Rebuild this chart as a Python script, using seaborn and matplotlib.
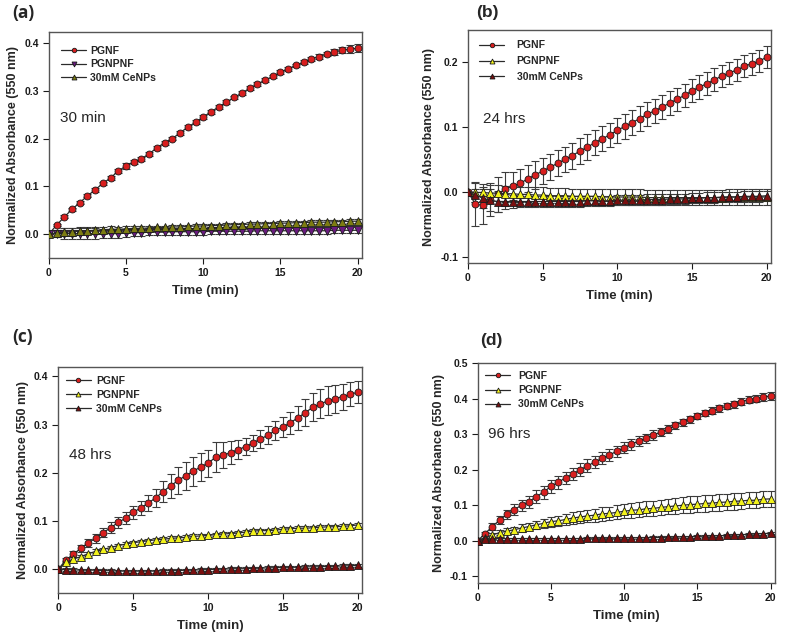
import numpy as np
import matplotlib
matplotlib.use("Agg")
import matplotlib.pyplot as plt
import seaborn as sns

# time grid (min)
t = np.arange(0, 20.5, 0.5)

# ---- (a) 30 min ----
a_pgnf = [0, 0.019, 0.036, 0.052, 0.066, 0.080, 0.093, 0.106, 0.118, 0.132,
          0.143, 0.151, 0.158, 0.168, 0.181, 0.191, 0.200, 0.212, 0.224, 0.234,
          0.245, 0.256, 0.266, 0.276, 0.286, 0.295, 0.305, 0.314, 0.322, 0.330,
          0.339, 0.346, 0.353, 0.360, 0.367, 0.371, 0.377, 0.381, 0.385, 0.387, 0.389]
a_pgnf_err = [0, 0.003, 0.003, 0.003, 0.003, 0.003, 0.004, 0.004, 0.004, 0.005,
              0.006, 0.005, 0.004, 0.004, 0.004, 0.004, 0.004, 0.004, 0.004, 0.004,
              0.004, 0.004, 0.004, 0.004, 0.004, 0.004, 0.004, 0.004, 0.004, 0.004,
              0.004, 0.004, 0.004, 0.004, 0.004, 0.005, 0.005, 0.006, 0.007, 0.008, 0.008]
a_pgnpnf = [0, 0.001, 0.001, 0.001, 0.001, 0.001, 0.001, 0.001, 0.001, 0.001,
            0.002, 0.003, 0.003, 0.004, 0.004, 0.004, 0.005, 0.005, 0.005, 0.005,
            0.005, 0.006, 0.006, 0.006, 0.006, 0.006, 0.006, 0.007, 0.007, 0.007,
            0.007, 0.007, 0.007, 0.007, 0.007, 0.007, 0.007, 0.008, 0.008, 0.008, 0.008]
a_pgnpnf_err = [0, 0.008, 0.012, 0.012, 0.012, 0.011, 0.011, 0.010, 0.010, 0.009,
                0.008, 0.007, 0.006, 0.006, 0.006, 0.006, 0.006, 0.006, 0.006, 0.006,
                0.006, 0.006, 0.006, 0.006, 0.006, 0.006, 0.006, 0.006, 0.006, 0.006,
                0.006, 0.006, 0.006, 0.006, 0.006, 0.006, 0.006, 0.006, 0.006, 0.006, 0.006]
a_cenps = [0, 0.003, 0.004, 0.005, 0.006, 0.007, 0.008, 0.009, 0.010, 0.010,
           0.011, 0.012, 0.012, 0.013, 0.014, 0.014, 0.015, 0.015, 0.016, 0.017,
           0.017, 0.018, 0.018, 0.019, 0.020, 0.020, 0.021, 0.021, 0.022, 0.022,
           0.023, 0.023, 0.024, 0.024, 0.025, 0.025, 0.025, 0.026, 0.026, 0.027, 0.027]
a_cenps_err = [0, 0.006, 0.008, 0.008, 0.008, 0.007, 0.007, 0.006, 0.006, 0.005,
               0.005, 0.004, 0.004, 0.004, 0.004, 0.004, 0.004, 0.004, 0.004, 0.004,
               0.004, 0.004, 0.004, 0.004, 0.004, 0.004, 0.004, 0.004, 0.004, 0.004,
               0.004, 0.004, 0.004, 0.004, 0.004, 0.004, 0.004, 0.004, 0.004, 0.004, 0.004]

# ---- (b) 24 hrs ----
b_pgnf = [0, -0.019, -0.021, -0.012, -0.004, 0.004, 0.009, 0.013, 0.020, 0.026,
          0.032, 0.038, 0.044, 0.050, 0.056, 0.063, 0.069, 0.076, 0.082, 0.088,
          0.095, 0.101, 0.107, 0.113, 0.120, 0.125, 0.131, 0.137, 0.143, 0.149,
          0.156, 0.162, 0.167, 0.173, 0.179, 0.184, 0.188, 0.194, 0.198, 0.202, 0.208]
b_pgnf_err = [0, 0.034, 0.028, 0.026, 0.027, 0.026, 0.022, 0.022, 0.021, 0.021,
              0.020, 0.020, 0.020, 0.020, 0.020, 0.020, 0.020, 0.019, 0.019, 0.019,
              0.019, 0.019, 0.019, 0.019, 0.019, 0.019, 0.018, 0.018, 0.018, 0.018,
              0.018, 0.018, 0.018, 0.018, 0.017, 0.017, 0.017, 0.017, 0.017, 0.017, 0.017]
b_pgnpnf = [0, -0.001, -0.001, -0.002, -0.002, -0.003, -0.003, -0.004, -0.004, -0.005,
            -0.005, -0.006, -0.006, -0.006, -0.007, -0.007, -0.007, -0.007, -0.008, -0.008,
            -0.008, -0.008, -0.008, -0.008, -0.009, -0.009, -0.009, -0.009, -0.009, -0.009,
            -0.009, -0.009, -0.009, -0.009, -0.009, -0.008, -0.008, -0.008, -0.008, -0.008, -0.008]
b_pgnpnf_err = [0, 0.015, 0.013, 0.012, 0.012, 0.012, 0.012, 0.012, 0.012, 0.012,
                0.012, 0.012, 0.012, 0.012, 0.012, 0.012, 0.012, 0.012, 0.012, 0.012,
                0.012, 0.012, 0.012, 0.012, 0.012, 0.012, 0.012, 0.012, 0.012, 0.012,
                0.012, 0.012, 0.012, 0.012, 0.012, 0.012, 0.012, 0.012, 0.012, 0.012, 0.012]
b_cenps = [0, -0.005, -0.010, -0.013, -0.015, -0.015, -0.015, -0.015, -0.015, -0.015,
           -0.015, -0.015, -0.015, -0.015, -0.015, -0.015, -0.014, -0.014, -0.014, -0.014,
           -0.013, -0.013, -0.013, -0.013, -0.012, -0.012, -0.012, -0.011, -0.011, -0.011,
           -0.010, -0.010, -0.009, -0.009, -0.008, -0.008, -0.008, -0.007, -0.007, -0.007, -0.006]
b_cenps_err = [0, 0.010, 0.015, 0.017, 0.016, 0.012, 0.010, 0.009, 0.008, 0.008,
               0.008, 0.008, 0.008, 0.008, 0.008, 0.008, 0.008, 0.008, 0.008, 0.008,
               0.008, 0.008, 0.008, 0.008, 0.008, 0.008, 0.008, 0.008, 0.008, 0.008,
               0.008, 0.008, 0.008, 0.008, 0.008, 0.008, 0.008, 0.008, 0.008, 0.008, 0.008]

# ---- (c) 48 hrs ----
c_pgnf = [0, 0.019, 0.031, 0.043, 0.055, 0.064, 0.076, 0.086, 0.097, 0.106,
          0.118, 0.127, 0.137, 0.148, 0.161, 0.173, 0.184, 0.194, 0.203, 0.212,
          0.220, 0.232, 0.236, 0.242, 0.248, 0.254, 0.262, 0.270, 0.278, 0.288,
          0.295, 0.304, 0.314, 0.325, 0.336, 0.343, 0.349, 0.354, 0.358, 0.363, 0.367]
c_pgnf_err = [0, 0.004, 0.006, 0.007, 0.008, 0.010, 0.010, 0.011, 0.012, 0.013,
              0.014, 0.015, 0.017, 0.019, 0.022, 0.025, 0.027, 0.029, 0.030, 0.029,
              0.028, 0.031, 0.027, 0.024, 0.020, 0.018, 0.017, 0.018, 0.019, 0.020,
              0.021, 0.023, 0.025, 0.027, 0.029, 0.030, 0.030, 0.029, 0.027, 0.025, 0.023]
c_pgnpnf = [0, 0.014, 0.021, 0.026, 0.032, 0.037, 0.041, 0.045, 0.049, 0.052,
            0.055, 0.057, 0.059, 0.061, 0.062, 0.064, 0.065, 0.066, 0.068, 0.069,
            0.070, 0.072, 0.073, 0.074, 0.075, 0.077, 0.079, 0.080, 0.080, 0.081,
            0.083, 0.084, 0.085, 0.085, 0.086, 0.087, 0.088, 0.088, 0.089, 0.090, 0.092]
c_pgnpnf_err = [0, 0.003, 0.004, 0.004, 0.004, 0.004, 0.004, 0.004, 0.004, 0.004,
                0.004, 0.004, 0.004, 0.004, 0.004, 0.004, 0.004, 0.004, 0.004, 0.004,
                0.004, 0.004, 0.004, 0.004, 0.004, 0.004, 0.004, 0.004, 0.004, 0.004,
                0.004, 0.004, 0.004, 0.004, 0.004, 0.004, 0.004, 0.004, 0.004, 0.004, 0.004]
c_cenps = [0, -0.001, -0.001, -0.002, -0.002, -0.002, -0.003, -0.003, -0.004, -0.004,
           -0.004, -0.004, -0.004, -0.004, -0.003, -0.003, -0.003, -0.002, -0.002, -0.001,
           -0.001, 0.000, 0.000, 0.001, 0.001, 0.001, 0.002, 0.002, 0.003, 0.003,
           0.004, 0.004, 0.004, 0.005, 0.005, 0.005, 0.006, 0.006, 0.007, 0.007, 0.008]
c_cenps_err = [0, 0.003, 0.003, 0.003, 0.003, 0.003, 0.003, 0.003, 0.003, 0.003,
               0.003, 0.003, 0.003, 0.003, 0.003, 0.003, 0.003, 0.003, 0.003, 0.003,
               0.003, 0.003, 0.003, 0.003, 0.003, 0.003, 0.003, 0.003, 0.003, 0.003,
               0.003, 0.003, 0.003, 0.003, 0.003, 0.003, 0.003, 0.003, 0.003, 0.003, 0.003]

# ---- (d) 96 hrs ----
d_pgnf = [0, 0.020, 0.040, 0.058, 0.074, 0.088, 0.100, 0.110, 0.124, 0.137,
          0.153, 0.165, 0.177, 0.188, 0.200, 0.211, 0.222, 0.232, 0.242, 0.252,
          0.262, 0.272, 0.281, 0.289, 0.298, 0.306, 0.315, 0.325, 0.334, 0.342,
          0.351, 0.360, 0.367, 0.373, 0.379, 0.384, 0.392, 0.397, 0.400, 0.405, 0.408]
d_pgnf_err = [0, 0.006, 0.010, 0.012, 0.014, 0.015, 0.016, 0.017, 0.018, 0.018,
              0.018, 0.018, 0.018, 0.018, 0.018, 0.018, 0.017, 0.017, 0.017, 0.016,
              0.016, 0.015, 0.014, 0.013, 0.013, 0.012, 0.012, 0.011, 0.010, 0.010,
              0.009, 0.009, 0.009, 0.009, 0.009, 0.009, 0.009, 0.010, 0.010, 0.010, 0.010]
d_pgnpnf = [0, 0.009, 0.016, 0.023, 0.027, 0.031, 0.036, 0.040, 0.045, 0.049,
            0.054, 0.056, 0.060, 0.064, 0.067, 0.070, 0.072, 0.076, 0.077, 0.080,
            0.083, 0.086, 0.087, 0.090, 0.091, 0.094, 0.096, 0.098, 0.100, 0.102,
            0.103, 0.105, 0.106, 0.108, 0.109, 0.111, 0.112, 0.114, 0.114, 0.117, 0.118]
d_pgnpnf_err = [0, 0.004, 0.006, 0.007, 0.008, 0.009, 0.010, 0.011, 0.012, 0.013,
                0.014, 0.015, 0.016, 0.017, 0.017, 0.018, 0.018, 0.019, 0.019, 0.020,
                0.020, 0.021, 0.021, 0.021, 0.022, 0.022, 0.022, 0.022, 0.023, 0.023,
                0.023, 0.023, 0.023, 0.023, 0.023, 0.023, 0.023, 0.023, 0.023, 0.023, 0.023]
d_cenps = [0, 0.005, 0.006, 0.006, 0.006, 0.006, 0.006, 0.006, 0.006, 0.006,
           0.006, 0.006, 0.006, 0.006, 0.006, 0.007, 0.007, 0.007, 0.007, 0.007,
           0.008, 0.008, 0.008, 0.008, 0.009, 0.009, 0.010, 0.010, 0.011, 0.011,
           0.012, 0.013, 0.013, 0.014, 0.015, 0.016, 0.017, 0.018, 0.019, 0.020, 0.021]
d_cenps_err = [0, 0.003, 0.003, 0.003, 0.003, 0.003, 0.003, 0.003, 0.003, 0.003,
               0.003, 0.003, 0.003, 0.003, 0.003, 0.003, 0.003, 0.003, 0.003, 0.003,
               0.003, 0.003, 0.003, 0.003, 0.003, 0.003, 0.003, 0.003, 0.003, 0.003,
               0.003, 0.003, 0.003, 0.003, 0.003, 0.003, 0.003, 0.003, 0.003, 0.003, 0.003]

labels = ["PGNF", "PGNPNF", "30mM CeNPs"]

sns.set_theme(style="ticks")
plt.rcParams["font.family"] = ["Liberation Sans", "DejaVu Sans"]

fig = plt.figure(figsize=(7.89, 6.41), dpi=100)

RED = "#d81e1e"
PURPLE = "#6a1a80"
OLIVE = "#7d7d12"
YELLOW = "#f2f21c"
DARKRED = "#7a0f0f"


def panel(rect, series, note, note_xy, ylim, yticks, tag, tag_xy, tag_font,
          leg_xy, leg_pad, leg_gap):
    ax = fig.add_axes(rect)
    for y, err, color, marker, name in series:
        ax.errorbar(t, y, yerr=err, fmt="none", ecolor="#3c3c3c", elinewidth=0.8,
                    capsize=3, capthick=0.8, zorder=1)
    for y, err, color, marker, name in series:
        sns.lineplot(x=t, y=y, ax=ax, color="#2a2a2a", linewidth=0.9, marker=marker,
                     markersize=5 if marker == "o" else 5.5, markerfacecolor=color,
                     markeredgecolor="#1a1a1a", markeredgewidth=0.6, label=name, zorder=3)
    ax.set_xlim(0, 20.3)
    ax.set_ylim(*ylim)
    ax.set_xticks([0, 5, 10, 15, 20])
    ax.set_yticks(yticks)
    ax.set_yticklabels([f"{v:.1f}" for v in yticks])
    ax.tick_params(direction="out", length=4, width=0.8, labelsize=7.5, pad=3, colors="#1a1a1a")
    for lab in ax.get_xticklabels() + ax.get_yticklabels():
        lab.set_fontweight("bold")
    for s in ax.spines.values():
        s.set_visible(True)
        s.set_color("#555555")
        s.set_linewidth(1.0)
    ax.set_xlabel("Time (min)", fontsize=9.5, fontweight="bold", labelpad=5)
    ax.set_ylabel("Normalized Absorbance (550 nm)", fontsize=9, fontweight="bold", labelpad=4)
    ax.text(note_xy[0], note_xy[1], note, fontsize=11, va="center", ha="left")
    leg = ax.legend(loc="upper left", bbox_to_anchor=leg_xy, frameon=False,
                    fontsize=7.5, handlelength=2.4, handletextpad=leg_gap,
                    labelspacing=leg_pad, borderaxespad=0, borderpad=0, markerscale=0.65)
    for txt in leg.get_texts():
        txt.set_fontweight("bold")
    fig.text(tag_xy[0], tag_xy[1], tag, fontsize=12.5, fontweight="bold",
             family=[tag_font, "DejaVu Sans"], va="center")
    return ax


panel([0.062, 0.5975, 0.397, 0.3526],
      [(a_pgnf, a_pgnf_err, RED, "o", labels[0]),
       (a_pgnpnf, a_pgnpnf_err, PURPLE, "v", labels[1]),
       (a_cenps, a_cenps_err, OLIVE, "^", labels[2])],
      "30 min", (0.74, 0.243), (-0.05, 0.423), [0.0, 0.1, 0.2, 0.3, 0.4],
      "(a)", (0.016, 0.98), "Open Sans", (0.04, 0.94), 0.35, 0.35)

panel([0.593, 0.5897, 0.3844, 0.3635],
      [(b_pgnf, b_pgnf_err, RED, "o", labels[0]),
       (b_pgnpnf, b_pgnpnf_err, YELLOW, "^", labels[1]),
       (b_cenps, b_cenps_err, DARKRED, "^", labels[2])],
      "24 hrs", (1.0, 0.113), (-0.11, 0.25), [-0.1, 0.0, 0.1, 0.2],
      "(b)", (0.604, 0.98), "Liberation Sans", (0.037, 0.955), 0.55, 1.2)

panel([0.0739, 0.0744, 0.3853, 0.3535],
      [(c_pgnf, c_pgnf_err, RED, "o", labels[0]),
       (c_pgnpnf, c_pgnpnf_err, YELLOW, "^", labels[1]),
       (c_cenps, c_cenps_err, DARKRED, "^", labels[2])],
      "48 hrs", (0.74, 0.237), (-0.05, 0.42), [0.0, 0.1, 0.2, 0.3, 0.4],
      "(c)", (0.016, 0.474), "Open Sans", (0.025, 0.96), 0.4, 0.5)

panel([0.6054, 0.09, 0.3768, 0.3432],
      [(d_pgnf, d_pgnf_err, RED, "o", labels[0]),
       (d_pgnpnf, d_pgnpnf_err, YELLOW, "^", labels[1]),
       (d_cenps, d_cenps_err, DARKRED, "^", labels[2])],
      "96 hrs", (0.7, 0.302), (-0.12, 0.5), [-0.1, 0.0, 0.1, 0.2, 0.3, 0.4, 0.5],
      "(d)", (0.608, 0.469), "Liberation Sans", (0.025, 0.965), 0.4, 0.8)

fig.savefig("out.png", dpi=100)
